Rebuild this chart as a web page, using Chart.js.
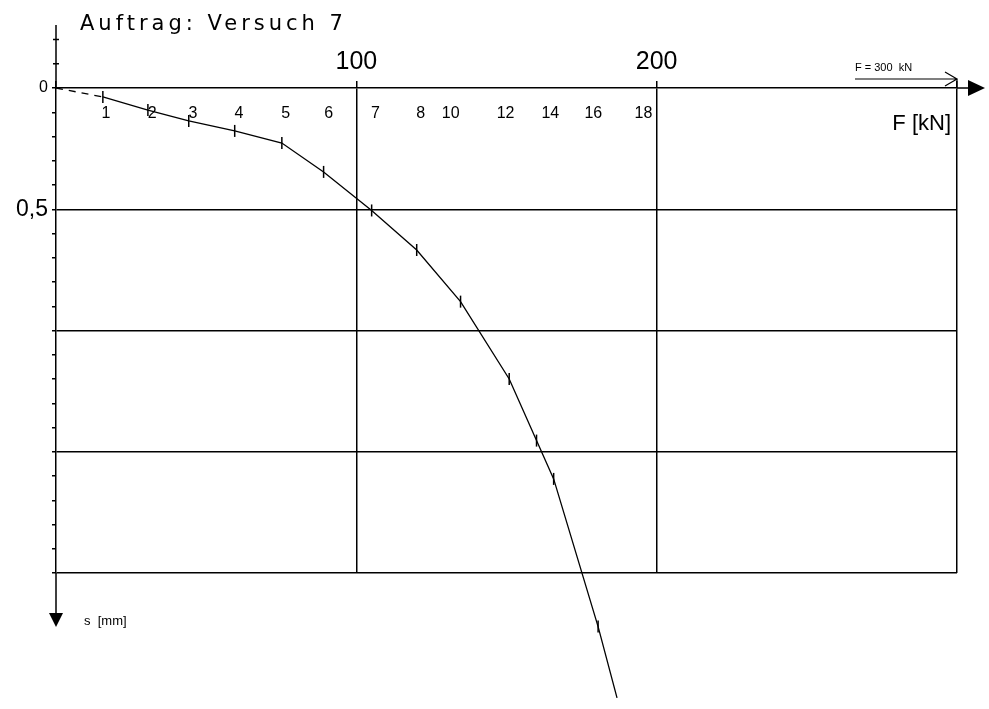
<!DOCTYPE html>
<html>
<head>
<meta charset="utf-8">
<script src="https://cdn.jsdelivr.net/npm/chart.js@4.4.0/dist/chart.umd.min.js"></script>
<style>
    html, body { margin: 0; padding: 0; background: #fff; }
    canvas { display: block; }
</style>
</head>
<body>
<canvas id="setzungChart" width="989" height="709"></canvas>
<script>
// Last F [kN] und Setzung s [mm]
const forceKN = [0, 15.6, 30.6, 44.2, 59.5, 75.2, 89.1, 105.1, 120.1, 134.7, 150.9, 160.0, 165.7, 180.5, 186.8];
const settlementMM = [0, 0.037, 0.091, 0.136, 0.177, 0.227, 0.346, 0.505, 0.668, 0.881, 1.2, 1.454, 1.612, 2.221, 2.515];

// Laststufen unter der F-Achse
const stepLabels = ['1', '2', '3', '4', '5', '6', '7', '8', '10', '12', '14', '16', '18'];
const stepForces = [16.6, 32, 45.6, 60.9, 76.5, 90.8, 106.4, 121.4, 131.4, 149.7, 164.6, 178.9, 195.6];

// Achsenbeschriftungen
const xTickValues = [100, 200];
const xTickLabels = ['100', '200'];
const yTickValues = [0, 0.5];
const yTickLabels = ['0', '0,5'];

const FONT = '"Liberation Sans", Arial, sans-serif';

function isHalf(v) {
    return Math.abs(v * 2 - Math.round(v * 2)) < 1e-6;
}

function labelFor(values, labels, v) {
    const i = values.findIndex(t => Math.abs(t - v) < 1e-6);
    return i >= 0 ? labels[i] : '';
}

// Messpunkte unterhalb der Zeichenfläche werden von Chart.js nicht gezeichnet
const outsideMarkers = {
    id: 'outsideMarkers',
    afterDatasetsDraw(chart) {
        const { ctx, chartArea } = chart;
        const meta = chart.getDatasetMeta(0);
        const last = meta.data.length - 1;
        ctx.save();
        ctx.strokeStyle = '#000';
        ctx.lineWidth = 1.5;
        meta.data.forEach((pt, i) => {
            if (i === 0 || i === last) return;
            if (pt.y <= chartArea.bottom) return;
            ctx.beginPath();
            ctx.moveTo(pt.x, pt.y - 6);
            ctx.lineTo(pt.x, pt.y + 6);
            ctx.stroke();
        });
        ctx.restore();
    }
};

// Zusätzliche Beschriftungen und Pfeile
const annotations = {
    id: 'annotations',
    afterDraw(chart) {
        const { ctx, chartArea, scales: { x, y } } = chart;
        const x0 = x.getPixelForValue(0);
        ctx.save();
        ctx.strokeStyle = '#000';
        ctx.fillStyle = '#000';
        ctx.lineWidth = 1.5;

        // s-Achse nach oben verlängert
        const yTop = y.getPixelForValue(-0.26);
        ctx.beginPath();
        ctx.moveTo(x0, chartArea.top);
        ctx.lineTo(x0, yTop);
        [-0.1, -0.2].forEach(v => {
            const py = y.getPixelForValue(v);
            ctx.moveTo(x0 - 3, py);
            ctx.lineTo(x0 + 3, py);
        });
        // s-Achse nach unten mit Pfeil
        ctx.moveTo(x0, chartArea.bottom);
        ctx.lineTo(x0, chartArea.bottom + 40);
        // F-Achse nach rechts
        ctx.moveTo(chartArea.right, chartArea.top);
        ctx.lineTo(chartArea.right + 12, chartArea.top);
        ctx.stroke();

        ctx.beginPath();
        ctx.moveTo(x0 - 7, chartArea.bottom + 40);
        ctx.lineTo(x0 + 7, chartArea.bottom + 40);
        ctx.lineTo(x0, chartArea.bottom + 54);
        ctx.closePath();
        ctx.fill();

        ctx.beginPath();
        ctx.moveTo(chartArea.right + 11, chartArea.top - 8);
        ctx.lineTo(chartArea.right + 11, chartArea.top + 8);
        ctx.lineTo(chartArea.right + 28, chartArea.top);
        ctx.closePath();
        ctx.fill();

        // Titel
        ctx.font = '21px "DejaVu Sans", sans-serif';
        ctx.letterSpacing = '4px';
        ctx.textAlign = 'left';
        ctx.textBaseline = 'alphabetic';
        ctx.fillText('Auftrag: Versuch 7', 80, 30);
        ctx.letterSpacing = '0px';

        // Laststufen
        ctx.font = '16px ' + FONT;
        ctx.textAlign = 'center';
        ctx.textBaseline = 'middle';
        stepLabels.forEach((lbl, i) => {
            ctx.fillText(lbl, x.getPixelForValue(stepForces[i]), chartArea.top + 26);
        });

        // Achsentitel
        ctx.font = '22px ' + FONT;
        ctx.textAlign = 'right';
        ctx.fillText('F [kN]', chartArea.right - 6, chartArea.top + 36);

        ctx.font = '13px ' + FONT;
        ctx.textAlign = 'left';
        ctx.fillText('s  [mm]', x0 + 28, chartArea.bottom + 48);

        // F = 300 kN mit Pfeil
        const x300 = x.getPixelForValue(300);
        ctx.font = '11px ' + FONT;
        ctx.fillText('F = 300  kN', x300 - 102, chartArea.top - 20);
        ctx.lineWidth = 1.2;
        ctx.beginPath();
        ctx.moveTo(x300 - 102, chartArea.top - 9);
        ctx.lineTo(x300, chartArea.top - 9);
        ctx.moveTo(x300 - 12, chartArea.top - 16);
        ctx.lineTo(x300, chartArea.top - 9);
        ctx.lineTo(x300 - 12, chartArea.top - 2);
        ctx.moveTo(x300, chartArea.top - 9);
        ctx.lineTo(x300, chartArea.top);
        ctx.stroke();

        ctx.restore();
    }
};

document.addEventListener('DOMContentLoaded', function () {
    const ctx = document.getElementById('setzungChart').getContext('2d');
    const points = forceKN.map((f, i) => ({ x: f, y: settlementMM[i] }));
    const last = points.length - 1;

    new Chart(ctx, {
        type: 'line',
        data: {
            datasets: [{
                data: points,
                borderColor: '#000',
                borderWidth: 1.3,
                pointStyle: 'line',
                pointRotation: 90,
                pointRadius: c => (c.dataIndex === 0 || c.dataIndex === last) ? 0 : 6,
                pointBorderColor: '#000',
                pointBorderWidth: 1.5,
                tension: 0,
                clip: false,
                segment: {
                    borderDash: c => c.p0DataIndex === 0 ? [7, 6] : undefined
                }
            }]
        },
        options: {
            responsive: false,
            animation: false,
            layout: {
                padding: { left: 0, right: 32, top: 0, bottom: 136 }
            },
            plugins: {
                legend: { display: false },
                tooltip: { enabled: false }
            },
            scales: {
                x: {
                    type: 'linear',
                    position: 'top',
                    min: 0,
                    max: 300,
                    afterFit: s => { s.height = 88; },
                    border: { color: '#000', width: 1.5 },
                    grid: {
                        color: c => c.tick && c.tick.value === 0 ? 'rgba(0,0,0,0)' : '#000',
                        lineWidth: 1.5,
                        tickColor: '#000',
                        tickLength: 7
                    },
                    ticks: {
                        stepSize: 100,
                        maxRotation: 0,
                        color: '#000',
                        padding: 4,
                        font: { family: FONT, size: 25 },
                        callback: v => labelFor(xTickValues, xTickLabels, v)
                    }
                },
                y: {
                    type: 'linear',
                    reverse: true,
                    min: 0,
                    max: 2,
                    afterFit: s => { s.width = 56; },
                    border: { color: '#000', width: 1.5 },
                    grid: {
                        color: c => c.tick && c.tick.value > 0 && isHalf(c.tick.value) ? '#000' : 'rgba(0,0,0,0)',
                        lineWidth: 1.5,
                        tickColor: '#000',
                        tickLength: 4
                    },
                    ticks: {
                        stepSize: 0.1,
                        autoSkip: false,
                        color: '#000',
                        padding: 4,
                        font: c => ({ family: FONT, size: c.tick && c.tick.value === 0 ? 16 : 23 }),
                        callback: v => labelFor(yTickValues, yTickLabels, v)
                    }
                }
            }
        },
        plugins: [outsideMarkers, annotations]
    });
});
</script>
</body>
</html>
